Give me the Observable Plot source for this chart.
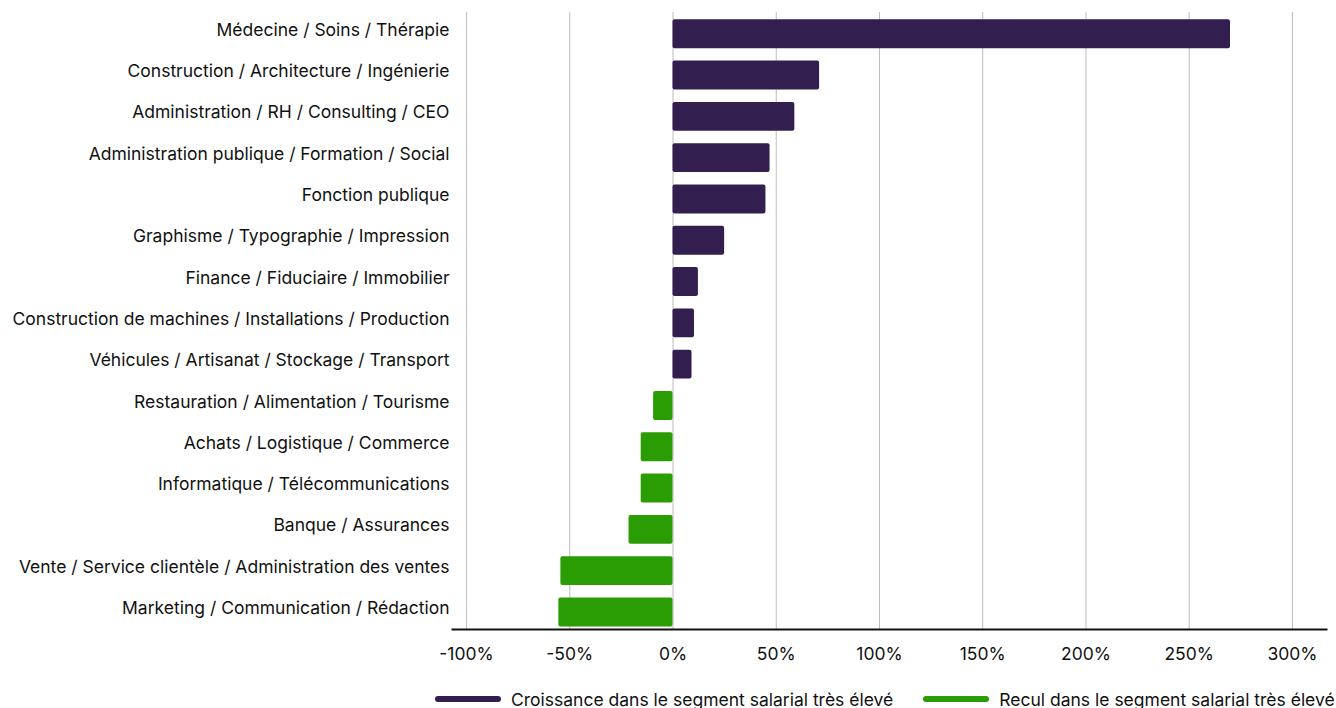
<!DOCTYPE html>
<html>
<head>
<meta charset="utf-8">
<script src="https://cdn.jsdelivr.net/npm/d3@7"></script>
<script src="https://cdn.jsdelivr.net/npm/@observablehq/plot@0.6"></script>
<style>
  html, body { margin: 0; padding: 0; background: #fff; overflow: hidden; }
  body { width: 1336px; font-family: Inter, "Noto Sans", sans-serif; color: #111; }
  #legend { display: flex; align-items: center; margin-left: 435px; margin-top: 15px; height: 24px; white-space: nowrap; font-size: 17.5px; }
  .sw { width: 66px; height: 6px; border-radius: 3px; margin-right: 10px; flex: none; }
  .item { display: flex; align-items: center; margin-right: 30px; }
</style>
</head>
<body>
<div id="chart"></div>
<div id="legend"></div>
<script>
const categories = [
  "Médecine / Soins / Thérapie",
  "Construction / Architecture / Ingénierie",
  "Administration / RH / Consulting / CEO",
  "Administration publique / Formation / Social",
  "Fonction publique",
  "Graphisme / Typographie / Impression",
  "Finance / Fiduciaire / Immobilier",
  "Construction de machines / Installations / Production",
  "Véhicules / Artisanat / Stockage / Transport",
  "Restauration / Alimentation / Tourisme",
  "Achats / Logistique / Commerce",
  "Informatique / Télécommunications",
  "Banque / Assurances",
  "Vente / Service clientèle / Administration des ventes",
  "Marketing / Communication / Rédaction"
];
const values = [270, 71, 59, 47, 45, 25, 12.3, 10.4, 9.2, -9.4, -15.4, -15.4, -21.3, -54.3, -55.3];
const xTicks = [-100, -50, 0, 50, 100, 150, 200, 250, 300];
const seriesNames = ["Croissance dans le segment salarial très élevé", "Recul dans le segment salarial très élevé"];
const seriesColors = ["#331f4f", "#2a9c04"];

const data = categories.map((c, i) => ({
  cat: c,
  value: values[i],
  series: values[i] >= 0 ? seriesNames[0] : seriesNames[1]
}));

const chart = Plot.plot({
  width: 1336,
  height: 672,
  marginLeft: 452,
  marginRight: 10,
  marginTop: 12,
  marginBottom: 43,
  style: { fontFamily: "Inter, 'Noto Sans', sans-serif", fontSize: "17.5px", color: "#111", background: "#fff" },
  x: { domain: [-106.8, 316.5], label: null },
  y: { domain: categories, range: [19.3, 626.4], paddingInner: 0.3, paddingOuter: 0, round: false, label: null },
  color: { domain: seriesNames, range: seriesColors },
  marks: [
    Plot.ruleX(xTicks, { stroke: "#bdbdbd", strokeWidth: 1 }),
    Plot.barX(data, { x: "value", y: "cat", fill: "series", rx: 2 }),
    Plot.frame({ anchor: "bottom", stroke: "#111", strokeWidth: 2 }),
    Plot.axisX({ ticks: xTicks, tickFormat: d => d + "%", tickSize: 0, tickPadding: 18, fontVariant: "normal", label: null }),
    Plot.axisY({ tickSize: 0, tickPadding: 3, dy: -4, label: null })
  ]
});
document.getElementById("chart").appendChild(chart);

const legend = document.getElementById("legend");
seriesNames.forEach((name, i) => {
  const item = document.createElement("div");
  item.className = "item";
  const sw = document.createElement("div");
  sw.className = "sw";
  sw.style.background = seriesColors[i];
  const t = document.createElement("span");
  t.textContent = name;
  item.appendChild(sw);
  item.appendChild(t);
  legend.appendChild(item);
});
</script>
</body>
</html>
